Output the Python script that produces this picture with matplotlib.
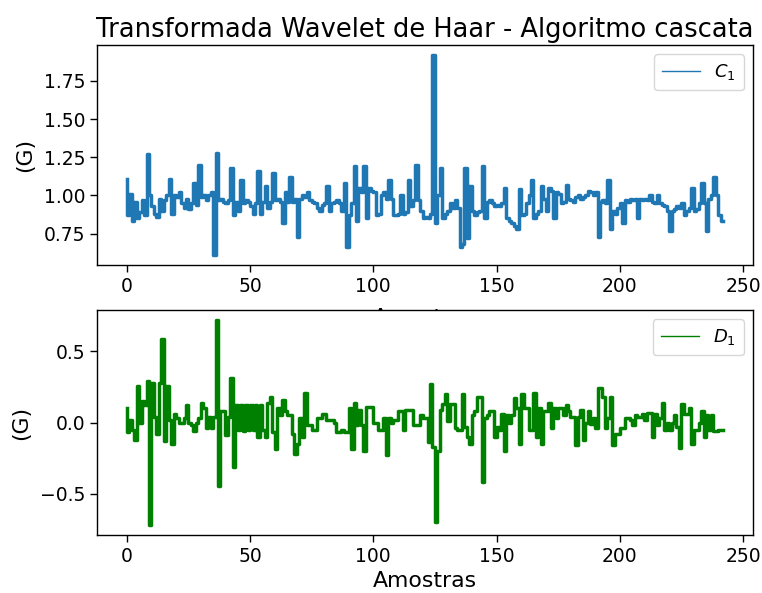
import numpy as np
import matplotlib
matplotlib.use("Agg")
import matplotlib.pyplot as plt
from matplotlib.lines import Line2D

# Approximation coefficients (level 1), Haar cascade
c1 = [
    1.11, 0.87, 1.01, 0.83, 0.96, 0.85, 0.89, 0.97, 0.87, 1.27,
    1.00, 0.93, 0.88, 0.86, 0.98, 0.90, 0.97, 1.00, 1.11, 0.88,
    1.00, 0.99, 1.02, 0.95, 0.92, 0.98, 0.91, 0.95, 1.08, 0.94,
    1.20, 0.99, 1.00, 0.97, 1.00, 1.02, 0.61, 1.28, 0.97, 0.98,
    0.96, 0.95, 0.97, 1.18, 0.87, 0.96, 0.90, 1.10, 0.95, 0.97,
    0.96, 0.93, 0.88, 0.95, 1.16, 0.88, 0.96, 1.06, 0.92, 0.96,
    1.15, 0.97, 0.98, 0.96, 0.82, 1.02, 0.96, 1.12, 0.96, 0.98,
    0.73, 0.98, 1.00, 0.99, 1.02, 0.97, 0.96, 0.95, 0.92, 0.90,
    0.94, 0.95, 1.06, 0.90, 0.95, 0.96, 0.97, 0.95, 0.90, 1.08,
    0.66, 0.87, 0.95, 1.19, 0.83, 1.05, 1.02, 1.19, 0.85, 1.05,
    1.03, 1.02, 0.87, 0.88, 1.00, 1.02, 0.98, 1.10, 0.98, 0.87,
    0.87, 0.88, 1.00, 0.88, 0.89, 1.10, 0.93, 0.97, 1.20, 0.97,
    0.90, 0.85, 0.86, 0.85, 0.88, 1.92, 0.82, 1.00, 1.18, 0.85,
    0.88, 0.90, 0.95, 0.92, 0.97, 0.92, 0.66, 0.68, 1.18, 0.72,
    1.06, 0.90, 0.87, 0.89, 0.90, 1.19, 0.85, 0.96, 0.97, 0.95,
    0.93, 0.94, 0.93, 0.95, 1.05, 0.85, 0.83, 0.82, 0.80, 0.78,
    1.04, 0.87, 0.88, 0.95, 1.00, 1.10, 0.85, 0.88, 0.90, 1.06,
    0.98, 0.90, 1.05, 1.03, 0.85, 1.02, 1.01, 0.95, 0.96, 1.07,
    0.98, 0.97, 0.96, 0.99, 1.00, 0.98, 0.99, 1.00, 1.03, 1.02,
    1.00, 1.02, 0.73, 0.96, 0.97, 0.95, 1.10, 0.78, 0.90, 0.88,
    0.92, 0.95, 0.82, 0.97, 0.96, 0.98, 0.97, 0.98, 0.85, 0.98,
    0.97, 0.98, 0.97, 1.00, 0.96, 0.95, 1.00, 0.95, 0.94, 0.93,
    0.90, 0.77, 0.90, 0.91, 0.93, 0.92, 0.95, 0.87, 0.90, 0.92,
    1.05, 0.90, 0.91, 0.95, 1.08, 0.95, 0.77, 0.98, 1.00, 1.12,
    1.00, 0.87, 0.83,
]

# Detail coefficients (level 1), Haar cascade
d1 = [
    0.10, -0.07, 0.02, -0.05, -0.12, 0.26, 0.00, 0.15, 0.12, 0.29,
    -0.72, 0.28, 0.04, -0.08, 0.28, 0.59, -0.13, 0.26, 0.02, -0.15,
    0.06, 0.03, 0.00, 0.00, 0.03, 0.12, 0.00, -0.02, -0.06, 0.00,
    0.03, 0.14, 0.10, -0.04, 0.04, -0.04, 0.04, 0.72, -0.45, 0.08,
    0.08, -0.09, 0.04, 0.31, -0.31, 0.12, -0.05, 0.12, -0.06, 0.12,
    -0.05, 0.12, -0.05, 0.12, -0.10, 0.12, -0.05, -0.10, 0.14, 0.18,
    -0.07, -0.19, 0.10, 0.05, 0.16, 0.08, 0.05, 0.05, -0.08, -0.22,
    -0.15, 0.03, -0.10, 0.21, -0.02, -0.02, -0.05, -0.05, 0.03, 0.03,
    0.06, 0.06, 0.02, 0.02, 0.02, 0.00, -0.07, -0.07, -0.05, -0.07,
    -0.07, 0.10, -0.19, 0.14, -0.02, 0.09, -0.02, -0.20, 0.11, 0.11,
    0.11, 0.00, 0.00, -0.05, -0.05, 0.03, -0.23, 0.03, 0.00, 0.02,
    0.02, 0.08, 0.08, -0.05, 0.09, 0.09, 0.09, -0.02, -0.02, -0.02,
    0.05, 0.03, 0.03, -0.14, 0.27, -0.17, -0.70, -0.20, 0.09, 0.13,
    0.20, 0.01, 0.13, 0.13, -0.04, -0.05, -0.05, 0.20, -0.03, -0.10,
    -0.15, 0.05, 0.08, 0.18, 0.18, -0.42, 0.03, 0.05, 0.08, 0.08,
    -0.10, -0.03, -0.05, 0.06, -0.20, 0.05, 0.00, 0.05, 0.17, 0.10,
    -0.15, 0.20, 0.10, 0.10, -0.05, -0.05, 0.21, -0.10, 0.10, -0.15,
    0.08, 0.08, 0.14, -0.04, 0.10, 0.03, 0.10, 0.10, 0.05, 0.12,
    0.08, 0.04, 0.04, -0.16, 0.04, 0.09, -0.12, 0.00, 0.08, -0.01,
    0.03, -0.04, 0.24, 0.24, 0.18, -0.04, 0.03, 0.18, -0.16, -0.08,
    -0.08, -0.04, -0.04, 0.03, 0.03, 0.02, -0.02, 0.05, 0.04, 0.04,
    0.06, 0.02, 0.07, 0.07, -0.10, 0.06, -0.02, 0.03, 0.14, -0.05,
    0.00, -0.05, 0.00, 0.05, -0.03, -0.18, 0.13, 0.06, 0.06, 0.10,
    -0.15, -0.05, -0.05, 0.00, 0.08, -0.10, 0.05, -0.05, 0.05, -0.06,
    -0.06, -0.05, -0.05,
]

title = "Transformada Wavelet de Haar - Algoritmo cascata"
xlabel = "Amostras"
ylabel = "(G)"
labels = ["$C_1$", "$D_1$"]
colors = ["#1f77b4", "green"]

TICK_FS = 13.5
LABEL_FS = 15.8
TITLE_FS = 18.5
LEGEND_FS = 13
LW = 2.5

fig = plt.figure(figsize=(7.62, 5.93), dpi=100)
ax1 = fig.add_axes([0.1273, 0.5531, 0.861, 0.3710])
ax2 = fig.add_axes([0.1273, 0.0978, 0.861, 0.3794])

for ax, data, lab, col in zip((ax1, ax2), (c1, d1), labels, colors):
    x = np.arange(len(data))
    ax.step(x, data, color=col, lw=LW)
    ax.set_ylabel(ylabel, fontsize=LABEL_FS, labelpad=6)
    ax.tick_params(labelsize=TICK_FS, length=5, width=1)
    for s in ax.spines.values():
        s.set_linewidth(1.0)
    handle = Line2D([], [], color=col, lw=1.0)
    ax.legend([handle], [lab], loc="upper right", fontsize=LEGEND_FS,
              borderpad=0.45, handlelength=2.1)

# the upper x label sits mostly under the lower panel
ax1.set_xlabel(xlabel, fontsize=LABEL_FS, labelpad=9)
ax2.set_xlabel(xlabel, fontsize=LABEL_FS)

ax1.set_yticks([0.75, 1.00, 1.25, 1.50, 1.75])
ax1.set_xticks([0, 50, 100, 150, 200, 250])
ax2.set_xticks([0, 50, 100, 150, 200, 250])
ax2.set_yticks([-0.5, 0.0, 0.5])
ax1.set_title(title, fontsize=TITLE_FS)

fig.savefig("out.png", dpi=100)
